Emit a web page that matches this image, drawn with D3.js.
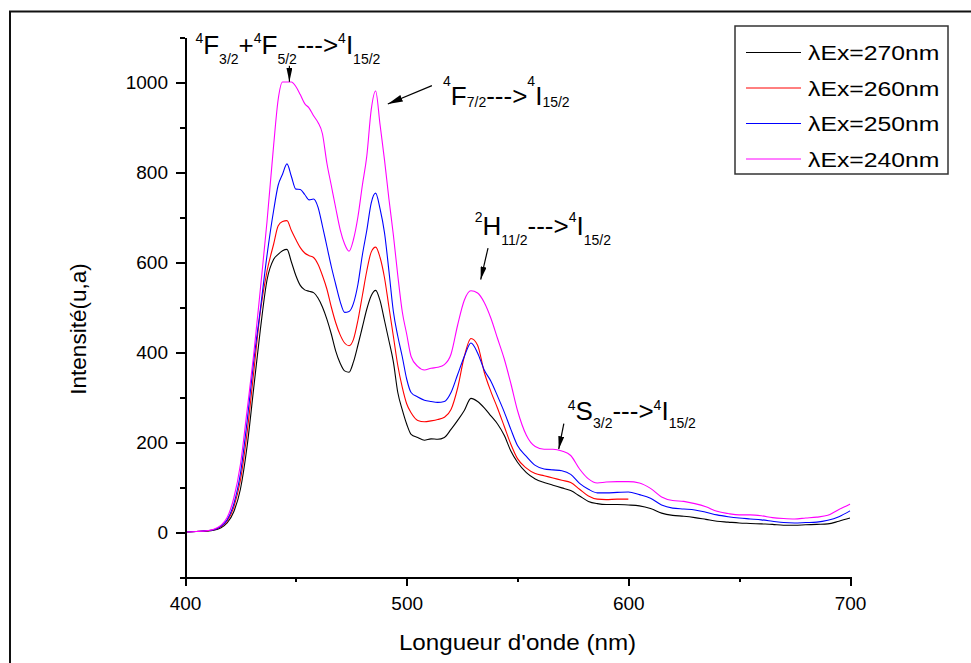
<!DOCTYPE html>
<html>
<head>
<meta charset="utf-8">
<script src="https://cdn.jsdelivr.net/npm/d3@7"></script>
<style>
  body { margin: 0; background: #fff; }
  svg { display: block; }
  text { font-family: "Liberation Sans", Arial, sans-serif; fill: #000; }
</style>
</head>
<body>
<svg id="chart" width="971" height="663"></svg>
<script>
// Emission wavelength grid (nm)
const wavelengths = [
  400, 405, 410, 413, 416, 419, 422, 425, 428, 431, 434, 437, 440, 442, 444, 446, 448, 450,
  452, 454, 456, 458, 460, 462, 464, 466, 468, 470, 472, 474, 476, 478, 480, 482, 484, 486,
  488, 490, 492, 494, 496, 498, 500, 502, 505, 508, 511, 514, 517, 520, 523, 526, 529, 532,
  535, 538, 541, 544, 547, 550, 554, 558, 562, 566, 570, 574, 578, 582, 586, 590, 595, 600,
  605, 610, 615, 620, 625, 630, 635, 640, 645, 650, 655, 660, 665, 670, 675, 680, 685, 690,
  695, 700
];

// Emission intensity (a.u.) for each excitation wavelength
const ex270 = [
  0, 1, 2, 4, 9, 20, 45, 95, 190, 320, 450, 560, 606, 617, 625, 628, 600, 570,
  548, 538, 535, 532, 520, 500, 473, 440, 402, 375, 358, 355, 378, 415, 455, 495, 525, 537,
  514, 470, 425, 378, 310, 272, 240, 217, 210, 204, 207, 206, 210, 228, 248, 270, 297, 290,
  276, 258, 240, 215, 180, 155, 132, 118, 110, 104, 98, 92, 80, 68, 63, 61, 61, 60,
  58, 52, 42, 37, 35, 32, 28, 24, 22, 20, 19, 18, 17, 15, 15, 16, 17, 18,
  24, 31
];
const ex260 = [
  0, 1, 2.5, 5, 11, 24, 55, 115, 220, 355, 490, 580, 640, 680, 690, 692, 670, 650,
  632, 620, 614, 610, 595, 570, 540, 500, 465, 438, 420, 414, 428, 470, 525, 580, 622, 633,
  610, 565, 500, 435, 370, 322, 285, 265, 248, 245, 247, 250, 255, 272, 320, 390, 430, 415,
  355, 312, 275, 235, 195, 163, 142, 130, 125, 120, 115, 110, 95, 80, 73, 72, 73, 73,
  null, null, null, null, null, null, null, null, null, null, null, null, null, null, null, null, null, null,
  null, null
];
const ex250 = [
  0, 1, 3, 5, 12, 27, 62, 130, 245, 380, 495, 615, 715, 770, 795, 818, 790, 762,
  761, 750, 738, 740, 722, 680, 635, 590, 550, 512, 488, 490, 508, 550, 615, 670, 731, 753,
  718, 665, 580, 490, 435, 390, 340, 310, 300, 293, 290, 288, 290, 310, 350, 390, 420, 398,
  360, 335, 302, 267, 228, 192, 168, 148, 140, 138, 136, 128, 108, 95, 87, 87, 88, 89,
  83, 75, 60, 53, 51, 49, 44, 38, 34, 31, 29, 27, 24, 21, 20, 21, 22, 26,
  34, 47
];
const ex240 = [
  0, 1, 3, 6, 14, 32, 75, 150, 270, 395, 540, 690, 860, 960, 1000, 1000, 1000, 990,
  972, 952, 942, 925, 910, 885, 820, 770, 720, 672, 640, 624, 650, 700, 770, 835, 938, 980,
  905, 827, 740, 660, 570, 490, 440, 390, 368, 360, 364, 366, 372, 395, 460, 515, 536, 531,
  510, 475, 430, 385, 330, 270, 215, 190, 184, 184, 180, 170, 140, 118, 109, 111, 112, 112,
  109, 97, 78, 70, 68, 63, 56, 46, 41, 38, 38, 36, 32, 30, 29, 31, 33, 37,
  50, 62
];

const seriesLabels = ["λEx=270nm", "λEx=260nm", "λEx=250nm", "λEx=240nm"];
const seriesColors = ["#000000", "#ff0000", "#0000ff", "#ff00ff"];

const xMajorTicks = [400, 500, 600, 700];
const xMinorTicks = [450, 550, 650];
const yMajorTicks = [0, 200, 400, 600, 800, 1000];
const yMinorTicks = [-100, 100, 300, 500, 700, 900, 1100];

const xTitle = "Longueur d'onde (nm)";
const yTitle = "Intensité(u,a)";

// Transition annotations: text anchor and arrow (start -> tip) in data units
const annotations = [
  { parts: [["sup","4"],["n","F"],["sub","3/2"],["n","+"],["sup","4"],["n","F"],["sub","5/2"],["n","--->"],["sup","4"],["n","I"],["sub","15/2"]],
    at: [404.7, 1062], supDy: -11, subDy: 10, arrow: [[447.1, 1036], [447.1, 1000.5]], head: [6, 14] },
  { parts: [["sup","4"],["n","F"],["sub","7/2"],["n","--->"],["sup","4"],["n","I"],["sub","15/2"]],
    at: [516.4, 949], supDy: -19, subDy: 2, arrow: [[511.4, 992], [491.5, 951]], head: [7, 15] },
  { parts: [["sup","2"],["n","H"],["sub","11/2"],["n","--->"],["sup","4"],["n","I"],["sub","15/2"]],
    at: [530.7, 661], supDy: -13, subDy: 10, arrow: [[536.7, 631], [533.4, 561]], head: [6, 13] },
  { parts: [["sup","4"],["n","S"],["sub","3/2"],["n","--->"],["sup","4"],["n","I"],["sub","15/2"]],
    at: [572.7, 250], supDy: -10, subDy: 8, arrow: [[570.9, 241], [568.6, 184]], head: [6, 13] }
];

const svg = d3.select("#chart");

const x = d3.scaleLinear().domain([400, 700]).range([185, 850]);
const y = d3.scaleLinear().domain([-100, 1100]).range([577, 37]);

// outer frame (only top and left edges fall inside the page)
svg.append("rect")
  .attr("x", 10).attr("y", 11.5).attr("width", 1000).attr("height", 1000)
  .attr("fill", "none").attr("stroke", "#111").attr("stroke-width", 2);

// spectra
const line = d3.line()
  .defined(d => d[1] != null)
  .curve(d3.curveMonotoneX)
  .x(d => x(d[0]))
  .y(d => y(d[1]));

[ex270, ex260, ex250, ex240].forEach((vals, i) => {
  svg.append("path")
    .datum(wavelengths.map((w, k) => [w, vals[k]]))
    .attr("fill", "none")
    .attr("stroke", seriesColors[i])
    .attr("stroke-width", 1.1)
    .attr("stroke-linejoin", "round")
    .attr("d", line);
});

// axes
function styleAxis(g) {
  g.attr("shape-rendering", "crispEdges");
  g.select(".domain").attr("stroke", "#000").attr("stroke-width", 2);
  g.selectAll(".tick line").attr("stroke", "#000").attr("stroke-width", 2);
  g.selectAll(".tick text").style("font-size", "19px").attr("fill", "#000");
}

const yAxisG = svg.append("g").attr("transform", `translate(${x(400)},0)`);
yAxisG.call(d3.axisLeft(y).tickValues(yMajorTicks).tickSize(9).tickSizeOuter(0)
  .tickPadding(8).tickFormat(d3.format("d")));
styleAxis(yAxisG);
const yMinorG = svg.append("g").attr("transform", `translate(${x(400)},0)`);
yMinorG.call(d3.axisLeft(y).tickValues(yMinorTicks).tickSize(5).tickSizeOuter(0).tickFormat(""));
styleAxis(yMinorG);

const xAxisG = svg.append("g").attr("transform", `translate(0,${y(-100)})`);
xAxisG.call(d3.axisBottom(x).tickValues(xMajorTicks).tickSize(9).tickSizeOuter(0)
  .tickPadding(10.4).tickFormat(d3.format("d")));
styleAxis(xAxisG);
const xMinorG = svg.append("g").attr("transform", `translate(0,${y(-100)})`);
xMinorG.call(d3.axisBottom(x).tickValues(xMinorTicks).tickSize(5).tickSizeOuter(0).tickFormat(""));
styleAxis(xMinorG);

// axis titles
svg.append("text")
  .attr("transform", `translate(${(x(400) + x(700)) / 2},650) scale(1.1,1)`)
  .attr("text-anchor", "middle")
  .style("font-size", "22px")
  .text(xTitle);

svg.append("text")
  .attr("transform", "translate(86,329) rotate(-90)")
  .attr("text-anchor", "middle")
  .style("font-size", "22.5px")
  .text(yTitle);

// annotations
const defs = svg.append("defs");
annotations.forEach((a, i) => {
  defs.append("marker")
    .attr("id", "head" + i)
    .attr("viewBox", `0 0 ${a.head[1]} ${a.head[0]}`)
    .attr("refX", a.head[1]).attr("refY", a.head[0] / 2)
    .attr("markerWidth", a.head[1]).attr("markerHeight", a.head[0])
    .attr("markerUnits", "userSpaceOnUse")
    .attr("orient", "auto")
    .append("path")
    .attr("d", `M0,0L${a.head[1]},${a.head[0] / 2}L0,${a.head[0]}Z`)
    .attr("fill", "#000");

  svg.append("line")
    .attr("x1", x(a.arrow[0][0])).attr("y1", y(a.arrow[0][1]))
    .attr("x2", x(a.arrow[1][0])).attr("y2", y(a.arrow[1][1]))
    .attr("stroke", "#000").attr("stroke-width", 1.2)
    .attr("marker-end", `url(#head${i})`);

  const t = svg.append("text")
    .attr("x", x(a.at[0])).attr("y", y(a.at[1]))
    .style("font-size", "26px");
  let shift = 0;
  a.parts.forEach(([kind, str]) => {
    const target = kind === "sup" ? a.supDy : kind === "sub" ? a.subDy : 0;
    t.append("tspan")
      .attr("dy", target - shift)
      .style("font-size", kind === "n" ? "26px" : "14px")
      .text(str);
    shift = target;
  });
});

// legend
const lg = svg.append("g");
lg.append("rect")
  .attr("x", 735).attr("y", 26).attr("width", 213).attr("height", 148)
  .attr("fill", "#fff").attr("stroke", "#333").attr("stroke-width", 1.5);
seriesLabels.forEach((lab, i) => {
  const ry = 52.5 + i * 35.5;
  lg.append("line")
    .attr("x1", 746).attr("x2", 801).attr("y1", ry).attr("y2", ry)
    .attr("stroke", seriesColors[i]).attr("stroke-width", 1);
  lg.append("text")
    .attr("transform", `translate(808,${ry + 7.5}) scale(1.18,1)`)
    .style("font-size", "21px")
    .text(lab);
});
</script>
</body>
</html>
